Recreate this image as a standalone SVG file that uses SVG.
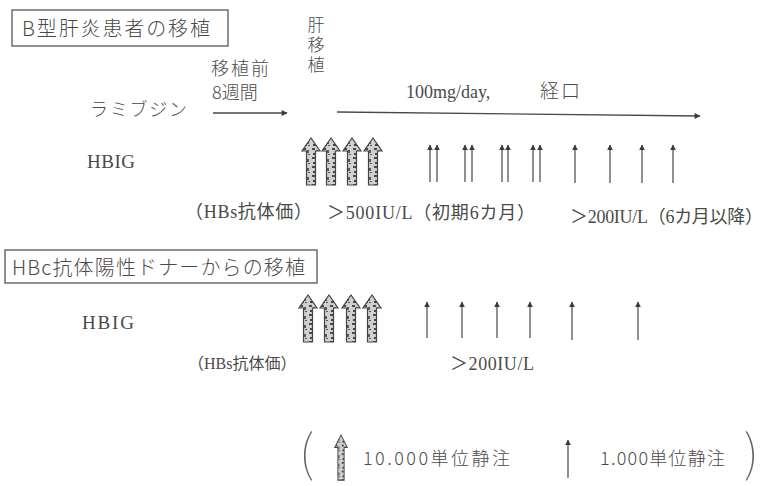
<svg xmlns="http://www.w3.org/2000/svg" width="765" height="486" viewBox="0 0 765 486">
<style>
  .t { font-family: "Liberation Serif", "Noto Sans CJK JP", serif; fill: #4a4a4a; }
  .g { font-family: "Noto Sans CJK JP", "Liberation Sans", sans-serif; fill: #4a4a4a; font-weight: 300; }
  .p { font-family: "Noto Sans CJK JP", "Liberation Sans", sans-serif; fill: #666; font-weight: 100; }
  .box { fill: none; stroke: #555; stroke-width: 1.3; }
  .line { stroke: #4a4a4a; stroke-width: 1.3; fill: none; }
  .sm { stroke: #555; stroke-width: 1.3; fill: none; marker-end: url(#ah); }
  .big { fill: url(#speck); stroke: #444; stroke-width: 1.2; }
</style>
<defs>
  <marker id="ah" viewBox="0 0 10 10" refX="9" refY="5" markerWidth="6" markerHeight="6" markerUnits="userSpaceOnUse" orient="auto">
    <path d="M0,0 L10,5 L0,10 z" fill="#3a3a3a"/>
  </marker>
  <marker id="ahl" viewBox="0 0 10 10" refX="9" refY="5" markerWidth="8" markerHeight="6" markerUnits="userSpaceOnUse" orient="auto">
    <path d="M0,0 L10,5 L0,10 z" fill="#3a3a3a"/>
  </marker>
  <pattern id="speck" width="9" height="9" patternUnits="userSpaceOnUse">
    <rect width="9" height="9" fill="#d0d0d0"/>
    <rect x="1" y="1" width="3" height="2" fill="#4a4a4a"/>
    <rect x="5" y="3" width="2" height="3" fill="#5a5a5a"/>
    <rect x="2" y="6" width="3" height="2" fill="#444"/>
    <rect x="6" y="7" width="2" height="1" fill="#555"/>
  </pattern>
  <path id="bigA" d="M0,0 L9,13 L4.5,13 L4.5,47 L-4.5,47 L-4.5,13 L-9,13 Z"/>
</defs>

<g id="title1">
  <rect class="box" x="12" y="10" width="216" height="36"/>
  <text class="g" x="22" y="36" font-size="20" textLength="188">B型肝炎患者の移植</text>
</g>

<g id="liver-tx">
  <text class="g" x="316" y="16" font-size="17" writing-mode="vertical-rl" letter-spacing="3">肝移植</text>
</g>

<g id="pre-tx">
  <text class="g" x="211" y="75" font-size="18" textLength="58">移植前</text>
  <text class="g" x="212" y="99" font-size="18">8週間</text>
</g>

<g id="lamivudine">
  <text class="g" x="90" y="116" font-size="18" textLength="97">ラミブジン</text>
</g>

<g id="dose-label">
  <text class="t" x="406" y="98" font-size="18">100mg/day,</text>
  <text class="g" x="540" y="98" font-size="19" textLength="40">経口</text>
</g>

<g id="hbig1">
  <text class="t" x="87" y="168" font-size="19" textLength="48">HBIG</text>
</g>

<g id="row1-labels">
  <text class="t" x="185" y="218" font-size="18" textLength="127">（HBs抗体価）</text>
  <text class="t" x="327" y="219" font-size="18" textLength="208">＞500IU/L（初期6カ月）</text>
  <text class="t" x="570" y="223" font-size="18" textLength="193">＞200IU/L（6カ月以降）</text>
</g>

<g id="title2">
  <rect class="box" x="5" y="250" width="312" height="33"/>
  <text class="g" x="12" y="275" font-size="20" textLength="293">HBc抗体陽性ドナーからの移植</text>
</g>

<g id="hbig2">
  <text class="t" x="82" y="329" font-size="19" textLength="52">HBIG</text>
</g>

<g id="row2-labels">
  <text class="t" x="188" y="369" font-size="16">（HBs抗体価）</text>
  <text class="t" x="450" y="370" font-size="18" textLength="84">＞200IU/L</text>
</g>

<g id="big-arrows-1">
  <use href="#bigA" class="big" x="311" y="138"/>
  <use href="#bigA" class="big" x="331" y="138"/>
  <use href="#bigA" class="big" x="352" y="138"/>
  <use href="#bigA" class="big" x="373" y="138"/>
</g>

<g id="big-arrows-2">
  <use href="#bigA" class="big" x="308" y="295"/>
  <use href="#bigA" class="big" x="329" y="295"/>
  <use href="#bigA" class="big" x="351" y="295"/>
  <use href="#bigA" class="big" x="372" y="295"/>
</g>

<g id="legend">
  <text class="p" x="299" y="471" font-size="50">(</text>
  <use href="#bigA" class="big" transform="translate(341,435) scale(0.7,0.96)"/>
  <text class="g" x="363" y="465" font-size="18" textLength="147">10.000単位静注</text>
  <line class="sm" x1="568" y1="478" x2="568" y2="440"/>
  <text class="g" x="600" y="465" font-size="18" textLength="125">1.000単位静注</text>
  <text class="p" x="744" y="471" font-size="50">)</text>
</g>

<g id="connectors">
  <line class="line" x1="213" y1="113" x2="287" y2="113" marker-end="url(#ahl)"/>
  <line class="line" x1="337" y1="112" x2="700" y2="116" marker-end="url(#ahl)"/>
  <line class="sm" x1="430" y1="182" x2="430" y2="145"/>
  <line class="sm" x1="437" y1="182" x2="437" y2="145"/>
  <line class="sm" x1="465" y1="182" x2="465" y2="145"/>
  <line class="sm" x1="472" y1="182" x2="472" y2="145"/>
  <line class="sm" x1="502" y1="182" x2="502" y2="145"/>
  <line class="sm" x1="508" y1="182" x2="508" y2="145"/>
  <line class="sm" x1="533" y1="182" x2="533" y2="145"/>
  <line class="sm" x1="540" y1="182" x2="540" y2="145"/>
  <line class="sm" x1="575" y1="183" x2="575" y2="145"/>
  <line class="sm" x1="610" y1="183" x2="610" y2="145"/>
  <line class="sm" x1="642" y1="183" x2="642" y2="145"/>
  <line class="sm" x1="673" y1="183" x2="673" y2="145"/>
  <line class="sm" x1="427" y1="338" x2="427" y2="302"/>
  <line class="sm" x1="462" y1="338" x2="462" y2="302"/>
  <line class="sm" x1="497" y1="338" x2="497" y2="302"/>
  <line class="sm" x1="530" y1="338" x2="530" y2="302"/>
  <line class="sm" x1="572" y1="340" x2="572" y2="302"/>
  <line class="sm" x1="638" y1="340" x2="638" y2="302"/>
</g>
</svg>
